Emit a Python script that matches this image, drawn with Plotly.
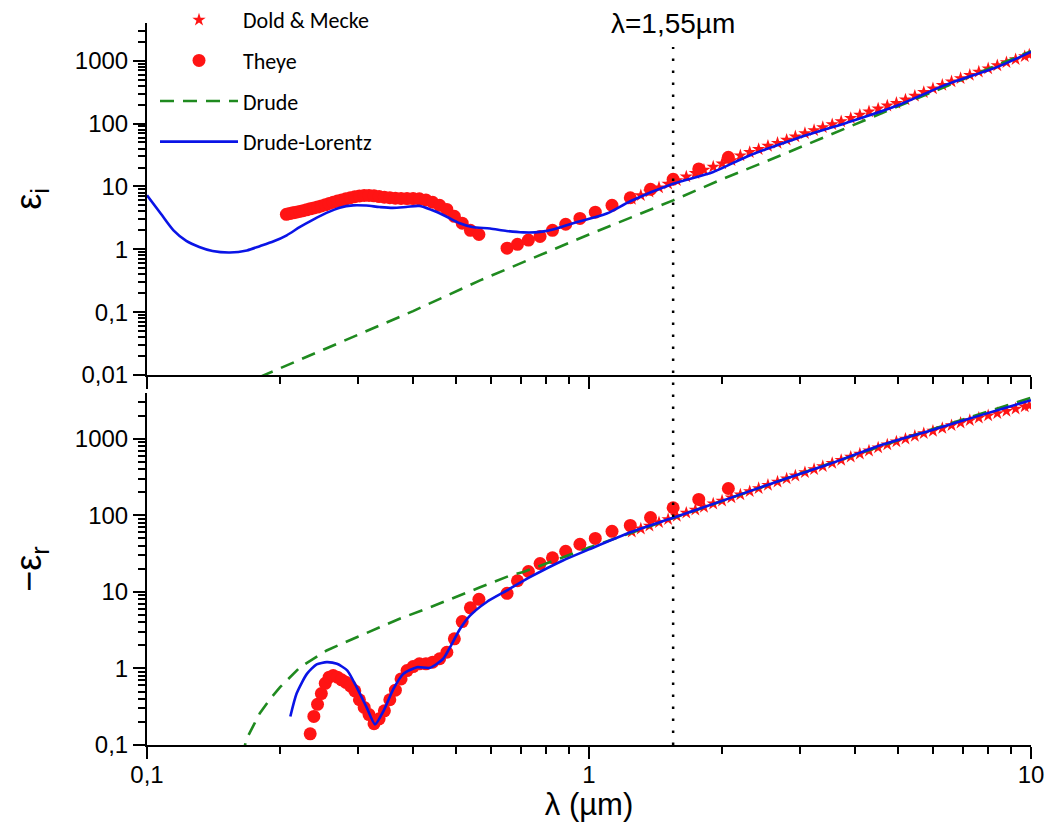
import plotly.graph_objects as go

# ---------------- data ----------------
# Theye data: wavelength (um)
theye_wl = [0.2067, 0.2102, 0.2138, 0.2175, 0.2214, 0.2254, 0.2296, 0.2340, 0.2385, 0.2431,
            0.2480, 0.2531, 0.2583, 0.2638, 0.2696, 0.2756, 0.2818, 0.2884, 0.2952, 0.3024,
            0.3100, 0.3179, 0.3263, 0.3351, 0.3444, 0.3543, 0.3647, 0.3757, 0.3875, 0.4000,
            0.4133, 0.4276, 0.4428, 0.4592, 0.4769, 0.4959, 0.5166, 0.5391, 0.5636, 0.6526,
            0.6889, 0.7294, 0.7750, 0.8267, 0.8857, 0.9538, 1.0333, 1.1273, 1.2400, 1.3778,
            1.5500, 1.7714, 2.0667]
theye_eps_i = [3.6, 3.7, 3.8, 3.9, 4.0, 4.1, 4.25, 4.4, 4.55, 4.7,
               4.9, 5.1, 5.35, 5.6, 5.85, 6.1, 6.35, 6.6, 6.85, 7.05,
               7.2, 7.2, 7.1, 6.9, 6.75, 6.6, 6.5, 6.45, 6.4, 6.4,
               6.35, 6.1, 5.6, 5.0, 4.3, 3.35, 2.6, 2.0, 1.72, 1.04,
               1.2, 1.4, 1.6, 2.0, 2.5, 3.1, 3.9, 5.0, 6.6, 9.0,
               13.0, 19.0, 29.0]
theye_neg_eps_r = [None, None, None, None, None, None, None, 0.14, 0.236, 0.34,
                   0.47, 0.64, 0.77, 0.81, 0.77, 0.71, 0.66, 0.59, 0.51, 0.39,
                   0.31, 0.25, 0.19, 0.22, 0.28, 0.39, 0.52, 0.73, 0.94, 1.06,
                   1.15, 1.15, 1.21, 1.34, 1.63, 2.44, 4.1, 6.2, 8.0, 9.6,
                   14.0, 18.5, 23.5, 28.0, 34.0, 42.0, 50.0, 62.0, 74.0, 94.0,
                   126.0, 162.0, 225.0]

# Dold & Mecke data
dm_wl = [1.25, 1.31, 1.37, 1.44, 1.51, 1.58, 1.66, 1.74, 1.82, 1.91,
         2.00, 2.10, 2.20, 2.31, 2.42, 2.54, 2.67, 2.80, 2.93, 3.08,
         3.23, 3.38, 3.55, 3.72, 3.91, 4.10, 4.30, 4.51, 4.73, 4.96,
         5.20, 5.46, 5.72, 6.00, 6.30, 6.61, 6.93, 7.27, 7.62, 8.00,
         8.39, 8.80, 9.23, 9.68, 9.91]
dm_eps_i = [6.3, 7.2, 8.2, 9.6, 11.0, 12.5, 14.3, 16.2, 18.3, 20.5,
            23.0, 26.0, 31.0, 35.0, 39.0, 44.0, 49.0, 55.0, 62.0, 70.0,
            78.0, 87.0, 97.0, 108.0, 122.0, 137.0, 155.0, 172.0, 192.0, 212.0,
            240.0, 275.0, 315.0, 360.0, 410.0, 465.0, 525.0, 590.0, 665.0, 750.0,
            840.0, 940.0, 1050.0, 1170.0, 1240.0]
dm_neg_eps_r = [61.0, 67.0, 73.0, 81.0, 89.0, 98.0, 108.0, 118.0, 129.0, 142.0,
                155.0, 171.0, 187.0, 206.0, 226.0, 249.0, 275.0, 302.0, 330.0, 365.0,
                400.0, 438.0, 482.0, 528.0, 582.0, 638.0, 700.0, 768.0, 842.0, 920.0,
                1000.0, 1090.0, 1180.0, 1270.0, 1380.0, 1500.0, 1620.0, 1750.0, 1880.0, 2020.0,
                2160.0, 2310.0, 2470.0, 2640.0, 2720.0]

# Drude model
drude_i_wl = [0.18, 0.25, 0.3, 0.4, 0.567, 0.8, 1.0, 1.55, 2.0, 2.71, 3.7, 4.39, 6.0, 8.0, 10.0]
drude_i = [0.0093, 0.025, 0.044, 0.104, 0.32, 0.88, 1.72, 6.0, 13.0, 31.0, 78.0, 130.0, 320.0, 740.0, 1420.0]
drude_r_wl = [0.164, 0.168, 0.175, 0.18, 0.19, 0.2, 0.222, 0.255, 0.3, 0.337, 0.374, 0.437,
              0.5, 0.567, 0.663, 0.71, 1.0, 1.55, 2.0, 3.0, 5.0, 7.0, 10.0]
drude_r = [0.07, 0.12, 0.19, 0.26, 0.4, 0.57, 1.04, 1.72, 2.6, 3.5, 4.5, 6.3,
           8.5, 11.5, 16.4, 18.2, 38.0, 92.0, 155.0, 350.0, 960.0, 1800.0, 3450.0]

# Drude-Lorentz model
dl_i_wl = [0.1, 0.1074, 0.1148, 0.1227, 0.1313, 0.1407, 0.1541, 0.1683, 0.1799, 0.1935,
           0.2071, 0.2219, 0.2377, 0.2547, 0.2729, 0.2925, 0.3134, 0.3358, 0.3597, 0.3855,
           0.4131, 0.4425, 0.4742, 0.5081, 0.5444, 0.597, 0.651, 0.71, 0.775, 0.845,
           0.92, 1.097, 1.24, 1.55, 1.91, 2.28, 2.95, 3.83, 4.97, 6.45, 8.37, 10.0]
dl_i = [7.25, 3.7, 2.0, 1.36, 1.09, 0.94, 0.89, 0.96, 1.12, 1.34,
        1.67, 2.27, 2.97, 3.79, 4.6, 5.0, 4.96, 4.7, 4.55, 4.7,
        4.9, 4.17, 3.35, 2.62, 2.27, 2.14, 1.96, 1.86, 1.89, 2.14,
        2.6, 3.7, 5.8, 11.0, 17.0, 30.0, 58.0, 103.0, 192.0, 420.0, 790.0, 1380.0]
dl_r_wl = [0.211, 0.218, 0.23, 0.242, 0.255, 0.269, 0.284, 0.298, 0.314, 0.328,
           0.343, 0.361, 0.38, 0.408, 0.437, 0.468, 0.485, 0.511, 0.538, 0.587,
           0.651, 0.735, 0.873, 1.0, 1.245, 1.55, 2.0, 2.71, 3.5, 4.55, 6.0, 7.67, 10.0]
dl_r = [0.236, 0.47, 0.85, 1.13, 1.21, 1.15, 0.94, 0.57, 0.31, 0.186,
        0.28, 0.54, 0.85, 1.04, 1.02, 1.34, 1.9, 3.3, 4.9, 7.4,
        10.4, 15.6, 25.8, 36.0, 60.7, 93.0, 155.0, 287.0, 470.0, 822.0, 1320.0, 2030.0, 3200.0]

# ticks
x_tickvals = [0.1, 1, 10]
x_ticktext = ["0,1", "1", "10"]
yi_tickvals = [0.01, 0.1, 1, 10, 100, 1000]
yi_ticktext = ["0,01", "0,1", "1", "10", "100", "1000"]
yr_tickvals = [0.1, 1, 10, 100, 1000]
yr_ticktext = ["0,1", "1", "10", "100", "1000"]
marker_wl = 1.55
marker_label = "λ=1,55µm"

# ---------------- styling ----------------
RED = "#ff1414"
GREEN = "#1f8a1f"
BLUE = "#0a14e6"
FONT = "Arial, 'Liberation Sans', sans-serif"
LEGFONT = "Carlito, Lato, sans-serif"

# page has an 8px body margin -> figure 1038x814 placed at (8,8)
W, H = 1038, 814
ML, MT = 139, 15
PW, PH = 884, 722
MR, MB = W - ML - PW, H - MT - PH


def minor_vals(lo, hi):
    vals = []
    for e in range(lo, hi + 1):
        for m in range(2, 10):
            vals.append(m * 10.0 ** e)
    return vals


fig = go.Figure()

# top panel (x2, y2) : eps_i
fig.add_trace(go.Scatter(x=dm_wl, y=dm_eps_i, mode="markers", name="Dold & Mecke",
                         marker=dict(symbol="star", size=10, color=RED),
                         xaxis="x2", yaxis="y2", legendgroup="a"))
fig.add_trace(go.Scatter(x=theye_wl, y=theye_eps_i, mode="markers", name="Theye",
                         marker=dict(symbol="circle", size=13, color=RED),
                         xaxis="x2", yaxis="y2", legendgroup="b"))
fig.add_trace(go.Scatter(x=drude_i_wl, y=drude_i, mode="lines", name="Drude",
                         line=dict(color=GREEN, width=2.6, dash="14px,9px"),
                         xaxis="x2", yaxis="y2", legendgroup="c"))
fig.add_trace(go.Scatter(x=dl_i_wl, y=dl_i, mode="lines", name="Drude-Lorentz",
                         line=dict(color=BLUE, width=2.6, shape="spline", smoothing=0.8),
                         xaxis="x2", yaxis="y2", legendgroup="d"))

# bottom panel (x, y) : -eps_r
fig.add_trace(go.Scatter(x=dm_wl, y=dm_neg_eps_r, mode="markers", showlegend=False,
                         marker=dict(symbol="star", size=10, color=RED),
                         xaxis="x", yaxis="y", legendgroup="a"))
fig.add_trace(go.Scatter(x=theye_wl, y=theye_neg_eps_r, mode="markers", showlegend=False,
                         marker=dict(symbol="circle", size=13, color=RED),
                         xaxis="x", yaxis="y", legendgroup="b"))
fig.add_trace(go.Scatter(x=drude_r_wl, y=drude_r, mode="lines", showlegend=False,
                         line=dict(color=GREEN, width=2.6, dash="14px,9px"),
                         xaxis="x", yaxis="y", legendgroup="c"))
fig.add_trace(go.Scatter(x=dl_r_wl, y=dl_r, mode="lines", showlegend=False,
                         line=dict(color=BLUE, width=2.6, shape="spline", smoothing=0.6),
                         xaxis="x", yaxis="y", legendgroup="d"))

tickfont = dict(family=FONT, size=24, color="black")
common_x = dict(type="log", range=[-1, 1], tickmode="array", tickvals=x_tickvals,
                ticks="outside", ticklen=12, tickwidth=2, tickcolor="black",
                showline=True, linewidth=2, linecolor="black", showgrid=False,
                zeroline=False, mirror=False, automargin=False,
                ticklabeloverflow="allow",
                minor=dict(tickmode="array", tickvals=minor_vals(-1, 0), ticks="outside",
                           ticklen=7, tickwidth=2, tickcolor="black", showgrid=False))


def y_axis(rng, dom, anchor, tv, tt, lo, hi, title):
    return dict(type="log", range=rng, domain=dom, anchor=anchor,
                tickmode="array", tickvals=tv, ticktext=tt, tickfont=tickfont,
                ticks="outside", ticklen=12, tickwidth=2, tickcolor="black",
                showline=True, linewidth=2, linecolor="black", showgrid=False,
                zeroline=False, automargin=False, ticklabeloverflow="allow",
                minor=dict(tickmode="array", tickvals=minor_vals(lo, hi), ticks="outside",
                           ticklen=7, tickwidth=1.5, tickcolor="black", showgrid=False),
                title=dict(text=title, font=dict(family=FONT, size=36), standoff=32))


fig.update_layout(
    width=W, height=H,
    template="none",
    paper_bgcolor="white", plot_bgcolor="white",
    font=dict(family=FONT, size=22, color="black"),
    margin=dict(l=ML, r=MR, t=MT, b=MB, pad=0, autoexpand=False),
    showlegend=True,
    legend=dict(x=8 / PW, y=1.0 + 24 / PH, xanchor="left", yanchor="top",
                bgcolor="rgba(0,0,0,0)", borderwidth=0,
                font=dict(family=LEGFONT, size=22, color="black"),
                tracegroupgap=9, itemwidth=78),
    xaxis=dict(common_x, domain=[0, 1], anchor="y", ticktext=x_ticktext,
               tickfont=tickfont, ticklabelstandoff=-5,
               title=dict(text="λ (µm)", font=dict(family=FONT, size=31), standoff=9)),
    xaxis2=dict(common_x, domain=[0, 1], anchor="y2", matches="x",
                showticklabels=False),
    yaxis=y_axis([-1, 3.6], [0, 352 / PH], "x", yr_tickvals, yr_ticktext, -1, 3,
                 "−ε<sub>r</sub>"),
    yaxis2=y_axis([-2, 3.6], [370 / PH, 1], "x2", yi_tickvals, yi_ticktext, -2, 3,
                  "ε<sub>i</sub>"),
)

# vertical dotted marker line at 1.55 um (through both panels)
fig.add_shape(type="line", xref="x", yref="paper", x0=marker_wl, x1=marker_wl,
              y0=0, y1=(PH - 24) / PH,
              line=dict(color="black", width=2.5, dash="2.5px,9.5px"))
fig.add_annotation(xref="x2", yref="paper", x=0.19033, y=(PH - 1) / PH,
                   text=marker_label, showarrow=False, xanchor="center", yanchor="middle",
                   font=dict(family=FONT, size=28, color="black"))

fig.write_html("out.html")
